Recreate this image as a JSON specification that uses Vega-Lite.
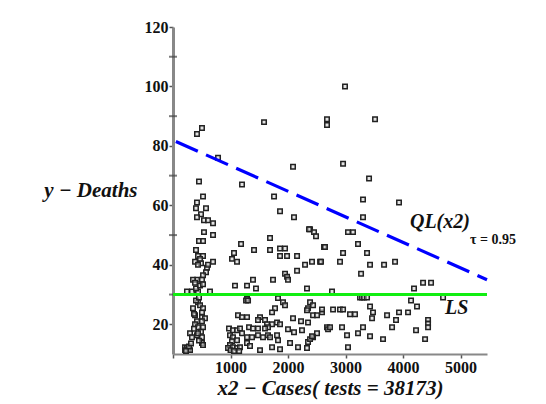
{
  "$schema": "https://vega.github.io/schema/vega-lite/v6.json",
  "width": 314,
  "height": 327,
  "autosize": {"type": "none"},
  "padding": {"left": 173, "top": 27, "right": 59, "bottom": 50},
  "background": "white",
  "config": {"view": {"stroke": null}},
  "datasets": {
    "pts": [
      {"x":504,"y":86},{"x":417,"y":84},{"x":783,"y":76},{"x":452,"y":68},{"x":522,"y":63},{"x":417,"y":61},{"x":400,"y":59},{"x":574,"y":59},{"x":487,"y":57},{"x":417,"y":56},{"x":539,"y":55},{"x":609,"y":55},{"x":696,"y":54},
      {"x":539,"y":51},{"x":696,"y":50},{"x":452,"y":48},{"x":522,"y":48},{"x":400,"y":45},{"x":435,"y":43},{"x":522,"y":43},
      {"x":383,"y":41},{"x":487,"y":40.5},{"x":696,"y":41},{"x":591,"y":39},{"x":574,"y":37.5},{"x":522,"y":36.5},{"x":504,"y":35},{"x":417,"y":35},{"x":348,"y":35},{"x":383,"y":34},{"x":435,"y":40},{"x":470,"y":42},{"x":609,"y":40},
      {"x":243,"y":31},{"x":330,"y":31},{"x":435,"y":31},{"x":643,"y":31},{"x":400,"y":32},{"x":470,"y":33},{"x":522,"y":33.5},
      {"x":435,"y":27.4},{"x":470,"y":26.4},{"x":522,"y":25.4},{"x":504,"y":24},{"x":348,"y":25.4},{"x":383,"y":23},{"x":504,"y":22.4},{"x":556,"y":22},{"x":417,"y":21},{"x":504,"y":21},{"x":383,"y":20},{"x":435,"y":19},{"x":522,"y":19},{"x":296,"y":17},{"x":417,"y":16.3},{"x":330,"y":15.6},{"x":504,"y":15.6},{"x":504,"y":13.7},{"x":522,"y":13},{"x":209,"y":12.3},{"x":243,"y":12},{"x":261,"y":11.3},{"x":209,"y":11.3},{"x":296,"y":11.3},{"x":278,"y":12.5},{"x":226,"y":11},{"x":400,"y":28},{"x":452,"y":29},{"x":365,"y":23.5},{"x":487,"y":17.5},{"x":452,"y":14.5},{"x":313,"y":13.5},{"x":435,"y":17},{"x":365,"y":18.5},
      {"x":1583,"y":88},{"x":2678,"y":89},{"x":2678,"y":87},{"x":2087,"y":73},{"x":1200,"y":67},{"x":1757,"y":63},{"x":1861,"y":58},{"x":2104,"y":56},{"x":2383,"y":52},{"x":2365,"y":52},{"x":2452,"y":51},{"x":2487,"y":49.6},{"x":1183,"y":47},{"x":1687,"y":49},{"x":1061,"y":44},{"x":1409,"y":45},{"x":1687,"y":45},{"x":1861,"y":45.5},{"x":1948,"y":45.5},{"x":2626,"y":46},{"x":1026,"y":42},{"x":1113,"y":41},{"x":1861,"y":43},{"x":1983,"y":43},{"x":2157,"y":43},{"x":2296,"y":40},{"x":2417,"y":41},{"x":2557,"y":41},{"x":2157,"y":38},{"x":1948,"y":37},{"x":1983,"y":36},{"x":2000,"y":35},{"x":1739,"y":35},{"x":1391,"y":35},{"x":1078,"y":33},{"x":1287,"y":33},{"x":1443,"y":32},{"x":2330,"y":32},
      {"x":1287,"y":28.5},{"x":1270,"y":28},{"x":1305,"y":28},{"x":1826,"y":28.8},{"x":1913,"y":27.4},{"x":1948,"y":26.4},{"x":2383,"y":27.4},{"x":2435,"y":26.4},{"x":2348,"y":25.4},{"x":2330,"y":24.7},{"x":2591,"y":24},{"x":2435,"y":23},{"x":2504,"y":23},{"x":1774,"y":25.4},{"x":1722,"y":24},{"x":1130,"y":23},{"x":1200,"y":22.4},{"x":1287,"y":22.4},{"x":1513,"y":22.4},{"x":1600,"y":21.4},{"x":1478,"y":21.4},{"x":2087,"y":22},{"x":2226,"y":21},{"x":2348,"y":20.6},{"x":1809,"y":20.6},{"x":1861,"y":20},{"x":1722,"y":20},{"x":1635,"y":20},{"x":1652,"y":19},{"x":1600,"y":18.6},{"x":974,"y":18.6},{"x":1043,"y":18},{"x":1113,"y":18},{"x":1165,"y":18.6},{"x":1322,"y":19},{"x":1391,"y":18.6},{"x":1478,"y":18.6},{"x":2504,"y":17},{"x":2435,"y":15.6},{"x":2678,"y":19},{"x":2696,"y":18.3},{"x":2000,"y":18.3},{"x":2104,"y":17.3},{"x":2243,"y":18},{"x":991,"y":16.3},{"x":1043,"y":15.6},{"x":1113,"y":14.6},{"x":1026,"y":14.3},{"x":1200,"y":17},{"x":1287,"y":15.6},{"x":1374,"y":15.6},{"x":1478,"y":16.3},{"x":1565,"y":15.6},{"x":1652,"y":16.3},{"x":1809,"y":16.3},{"x":1826,"y":14.6},{"x":1687,"y":15.6},{"x":991,"y":13},{"x":1043,"y":12.3},{"x":1113,"y":12},{"x":1165,"y":12.3},{"x":1287,"y":13.7},{"x":1339,"y":12.7},{"x":1513,"y":11.3},{"x":1722,"y":12.3},{"x":1861,"y":11.6},{"x":2035,"y":13.7},{"x":2174,"y":12.3},{"x":2330,"y":12},{"x":2348,"y":14},{"x":2383,"y":15},{"x":2417,"y":16},{"x":957,"y":12},{"x":1000,"y":11.3},{"x":1060,"y":11},{"x":1150,"y":11},
      {"x":2991,"y":100},{"x":3513,"y":89},{"x":2957,"y":74},{"x":3409,"y":69},{"x":3304,"y":62},{"x":3930,"y":61},{"x":3304,"y":56},{"x":3043,"y":51},{"x":3130,"y":51},{"x":2643,"y":46},{"x":3217,"y":47},{"x":2957,"y":44},{"x":3374,"y":44},{"x":2574,"y":41},{"x":2904,"y":41},{"x":3426,"y":40},{"x":3670,"y":40},{"x":3861,"y":41},{"x":3270,"y":37},{"x":4191,"y":32},{"x":4348,"y":34},{"x":4487,"y":34},{"x":2765,"y":31},{"x":3252,"y":29},{"x":3287,"y":29},{"x":3322,"y":29},{"x":3374,"y":29},{"x":4139,"y":28},{"x":4243,"y":26},{"x":4696,"y":29},{"x":3426,"y":26},{"x":3478,"y":24},{"x":3461,"y":22},{"x":2591,"y":25},{"x":2783,"y":25},{"x":2904,"y":25},{"x":2957,"y":25},{"x":3078,"y":23.4},{"x":3165,"y":23.4},{"x":3722,"y":23},{"x":3930,"y":24},{"x":4087,"y":24},{"x":3878,"y":21.4},{"x":3809,"y":19},{"x":4435,"y":21.4},{"x":4435,"y":20.3},{"x":4435,"y":19},{"x":2730,"y":19},{"x":2939,"y":19},{"x":3304,"y":19},{"x":3026,"y":16.3},{"x":3217,"y":17},{"x":3426,"y":16},{"x":3652,"y":15},{"x":4226,"y":18},{"x":4383,"y":15},{"x":3043,"y":12.3}
    ]
  },
  "layer": [
    {
      "data": {"name": "pts"},
      "mark": {"type": "point", "shape": "square", "size": 20, "filled": true, "fill": "#d0d0d0", "fillOpacity": 0.6, "stroke": "#222222", "strokeWidth": 1.5},
      "encoding": {
        "x": {
          "field": "x", "type": "quantitative",
          "scale": {"domain": [0, 5460], "nice": false, "zero": false},
          "axis": {
            "values": [0,500,1000,1500,2000,2500,3000,3500,4000,4500,5000],
            "labelExpr": "datum.value > 0 && datum.value % 1000 == 0 ? datum.label : ''",
            "labelOverlap": false,
            "format": "d",
            "grid": false,
            "domainColor": "#888888", "domainWidth": 2,
            "tickColor": "#555555", "tickSize": 4, "tickWidth": 1.5,
            "labelFont": "Liberation Serif", "labelFontWeight": "bold", "labelFontSize": 16, "labelColor": "#111111", "labelPadding": 1,
            "title": "x2 − Cases( tests = 38173)",
            "titleFont": "Liberation Serif", "titleFontStyle": "italic", "titleFontWeight": "bold", "titleFontSize": 21, "titleColor": "#111111",
            "titleBaseline": "middle", "titleY": 34
          }
        },
        "y": {
          "field": "y", "type": "quantitative",
          "scale": {"domain": [10, 120], "nice": false, "zero": false},
          "axis": {
            "values": [20, 40, 60, 80, 100, 120],
            "format": "d",
            "labelOverlap": false,
            "grid": false,
            "domainColor": "#888888", "domainWidth": 3,
            "tickColor": "#555555", "tickSize": 4, "tickWidth": 1.5,
            "labelFont": "Liberation Serif", "labelFontWeight": "bold", "labelFontSize": 16, "labelColor": "#111111", "labelPadding": 1,
            "title": "y − Deaths",
            "titleFont": "Liberation Serif", "titleFontStyle": "italic", "titleFontWeight": "bold", "titleFontSize": 21, "titleColor": "#111111",
            "titleAngle": 0, "titleAlign": "right", "titleBaseline": "middle", "titleX": -36, "titleY": 163
          }
        }
      }
    },
    {
      "data": {"values": [{"x": 0, "y": 30}, {"x": 0, "y": 50}, {"x": 0, "y": 70}, {"x": 0, "y": 90}, {"x": 0, "y": 110}]},
      "mark": {"type": "tick", "orient": "horizontal", "color": "#444444", "thickness": 2, "size": 8},
      "encoding": {
        "x": {"field": "x", "type": "quantitative"},
        "y": {"field": "y", "type": "quantitative"}
      }
    },
    {
      "data": {"values": [{"x": 0, "y": 30, "x2": 5460, "y2": 30}]},
      "mark": {"type": "rule", "color": "#11ee11", "strokeWidth": 3},
      "encoding": {
        "x": {"field": "x", "type": "quantitative"},
        "y": {"field": "y", "type": "quantitative"},
        "x2": {"field": "x2"},
        "y2": {"field": "y2"}
      }
    },
    {
      "data": {"values": [{"x": 50, "y": 81.5, "x2": 5460, "y2": 35}]},
      "mark": {"type": "rule", "color": "#0000ff", "strokeWidth": 3.2, "strokeDash": [24, 9]},
      "encoding": {
        "x": {"field": "x", "type": "quantitative"},
        "y": {"field": "y", "type": "quantitative"},
        "x2": {"field": "x2"},
        "y2": {"field": "y2"}
      }
    },
    {
      "data": {"values": [
        {"x": 4120, "y": 54.3, "t": "QL(x2)"},
        {"x": 4730, "y": 25.4, "t": "LS"}
      ]},
      "mark": {"type": "text", "align": "left", "baseline": "middle", "font": "Liberation Serif", "fontStyle": "italic", "fontWeight": "bold", "fontSize": 20, "color": "#111111"},
      "encoding": {
        "x": {"field": "x", "type": "quantitative"},
        "y": {"field": "y", "type": "quantitative"},
        "text": {"field": "t"}
      }
    },
    {
      "data": {"values": [{"x": 5165, "y": 48.5, "t": "τ = 0.95"}]},
      "mark": {"type": "text", "align": "left", "baseline": "middle", "font": "Liberation Serif", "fontWeight": "bold", "fontSize": 14, "color": "#111111"},
      "encoding": {
        "x": {"field": "x", "type": "quantitative"},
        "y": {"field": "y", "type": "quantitative"},
        "text": {"field": "t"}
      }
    }
  ]
}
